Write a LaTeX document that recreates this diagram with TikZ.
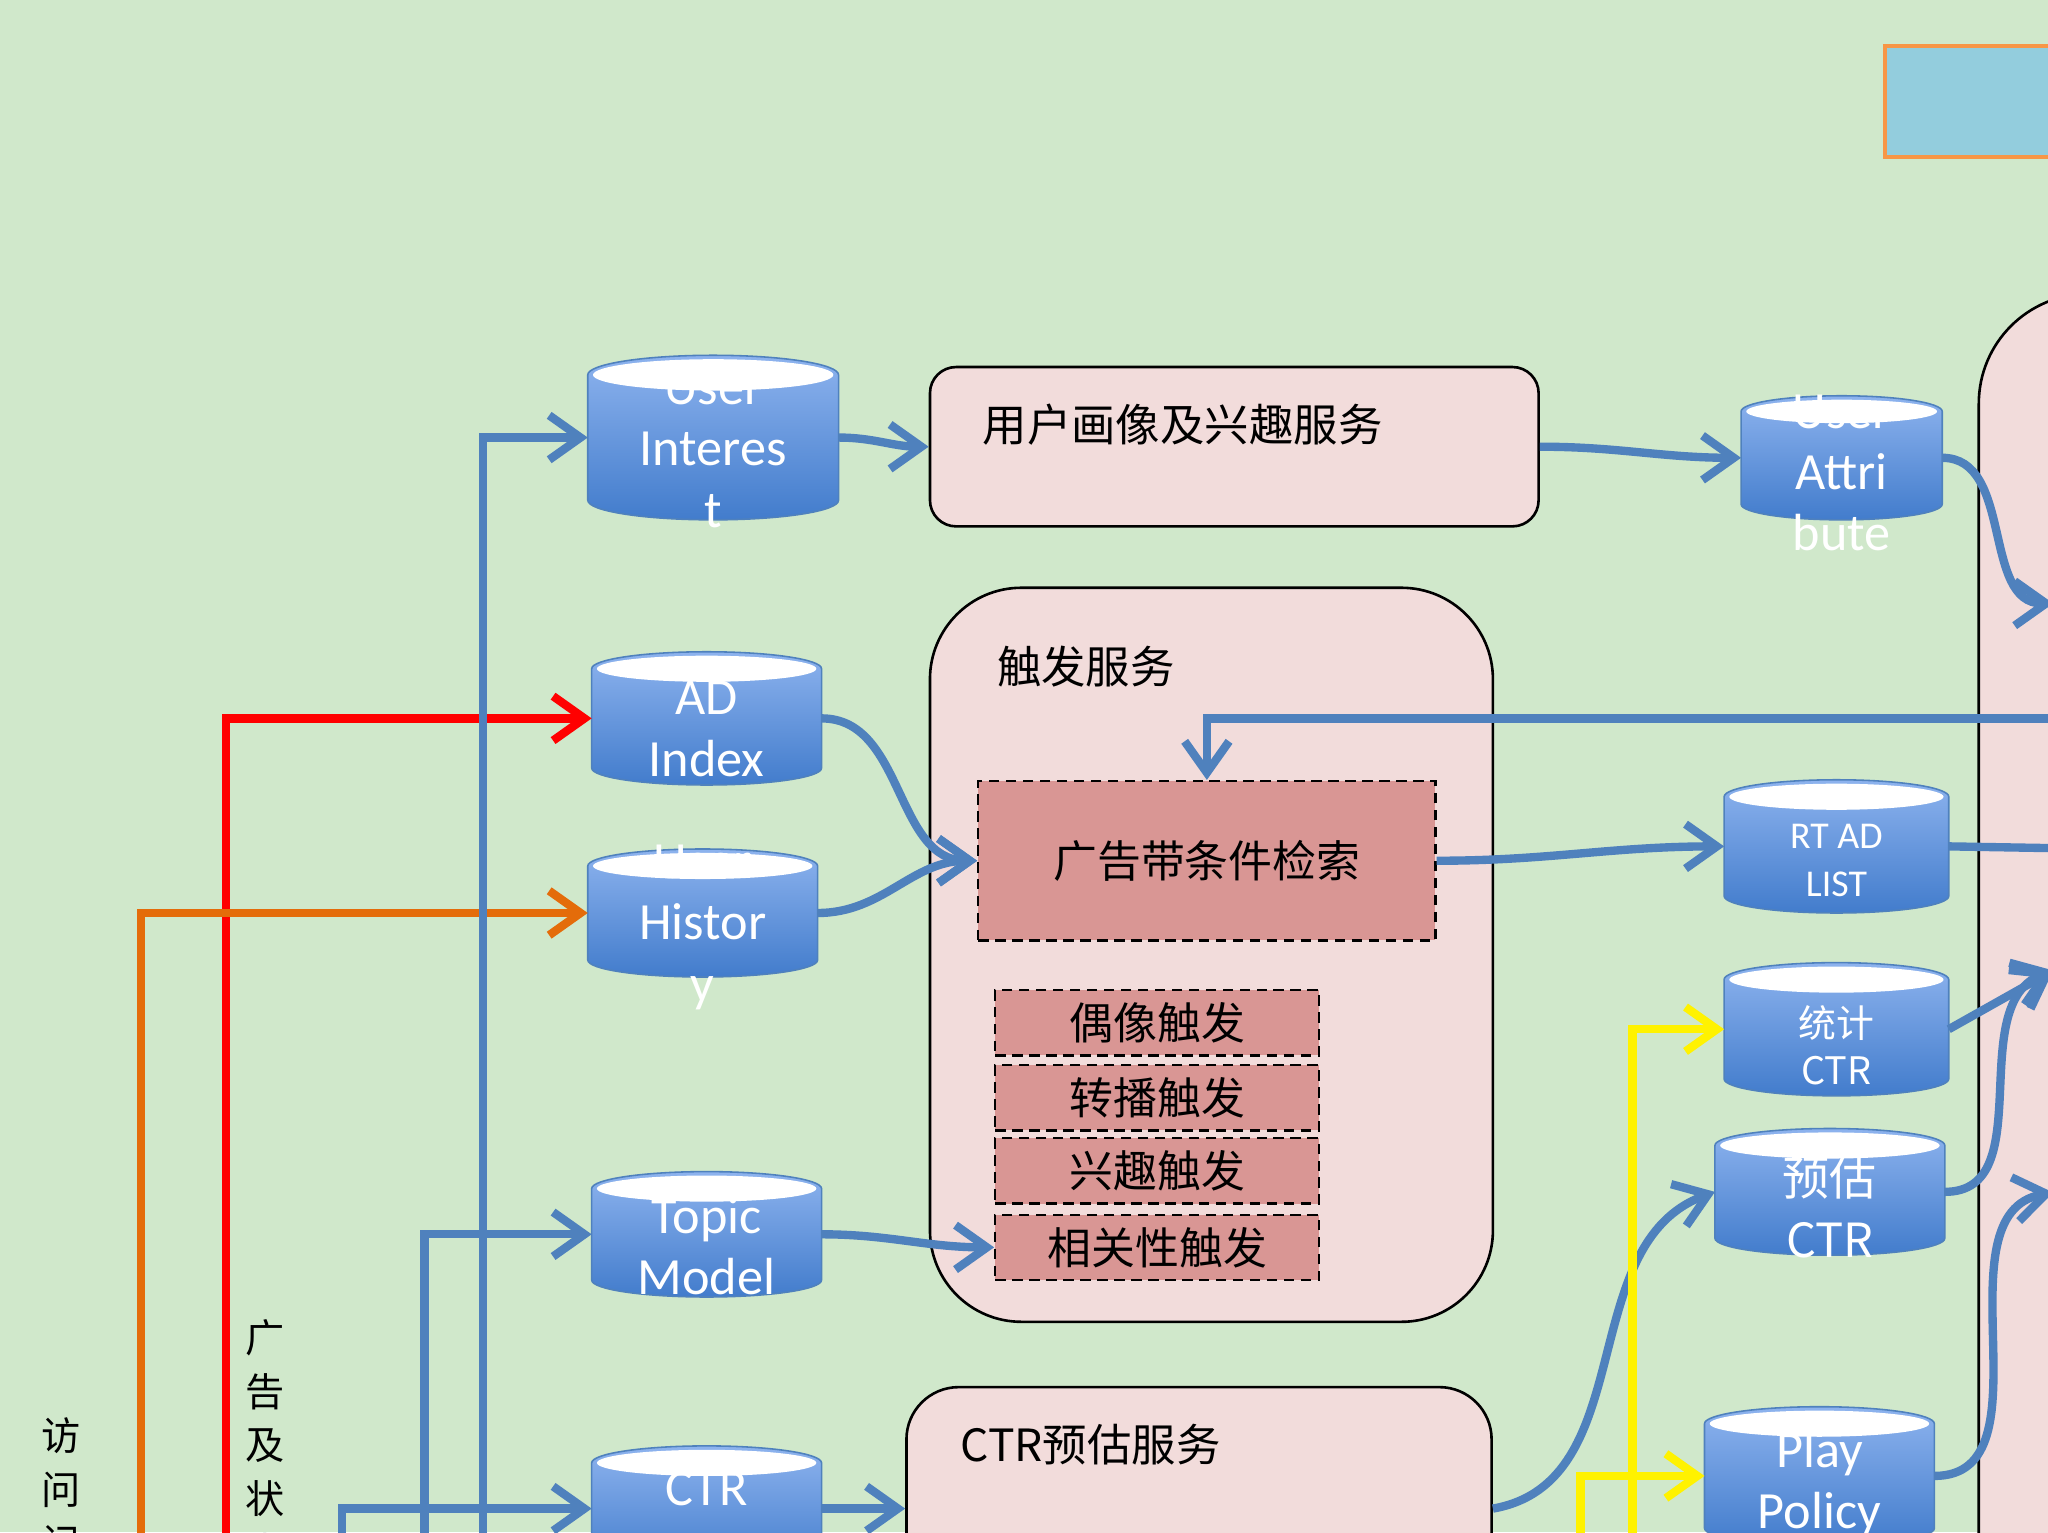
\documentclass[tikz,border=0pt]{standalone}
\usepackage{fontspec}
\setmainfont{Carlito}
\newfontfamily\cjk{Noto Sans CJK SC}
\usetikzlibrary{arrows.meta}
\definecolor{bggreen}{RGB}{208,232,203}
\definecolor{lineblue}{RGB}{79,129,189}
\definecolor{boxpink}{RGB}{242,220,219}
\definecolor{boxrose}{RGB}{217,150,148}
\definecolor{cyltop}{RGB}{141,179,238}
\definecolor{cylbot}{RGB}{66,124,204}
\definecolor{lineorange}{RGB}{228,108,10}
\definecolor{topblue}{RGB}{147,205,221}
\definecolor{toporange}{RGB}{247,150,70}
\tikzset{
  flow/.style={draw=lineblue, line width=3.2pt, -{Straight Barb[length=12pt,width=17pt]}},
  redflow/.style={flow, draw=red},
  orangeflow/.style={flow, draw=lineorange},
  yellowflow/.style={flow, draw=yellow},
  svcbox/.style={draw=black, line width=1pt, fill=boxpink},
  trigbox/.style={draw=black, dash pattern=on 4pt off 2.5pt, line width=0.9pt, fill=boxrose,
    font=\cjk\fontsize{16.8}{20}\selectfont, inner sep=0pt},
  svctitle/.style={anchor=west, inner sep=0pt, font=\cjk\fontsize{17}{20}\selectfont},
  cylbody/.style={inner sep=0pt, outer sep=0pt},
  cyltext/.style={text=white, align=center, inner sep=0pt, font=\fontsize{20}{23.5}\selectfont},
  vtext/.style={anchor=north, align=center, inner sep=0pt, font=\cjk\fontsize{15}{20.5}\selectfont},
}
% name, cx, top, bottom, half width, ry
\newcommand{\dbcyl}[6]{%
  \shade[top color=cyltop, bottom color=cylbot, draw=lineblue, line width=0.6pt]
    (#2-#5,#3) -- (#2-#5,#4) arc[start angle=180, end angle=0, x radius=#5, y radius=#6]
    -- (#2+#5,#3) arc[start angle=0, end angle=-180, x radius=#5, y radius=#6] -- cycle;
  \fill[white] (#2,#3) ellipse[x radius=#5-4, y radius=#6-3];
  \node[cylbody, minimum width=#5pt, minimum height={(#4-#3)*0.5pt}] (#1) at (#2,{(#3+#4)/2}) {};
}
\begin{document}
\begin{tikzpicture}[x=0.5pt, y=-0.5pt]
\useasboundingbox (0,0) rectangle (1568,1173);
\clip (0,0) rectangle (1568,1173);
\fill[bggreen] (0,0) rectangle (1568,1173);

% services
\node[draw=toporange, fill=topblue, line width=1.5pt, minimum width=128.5pt, minimum height=42.5pt] (topbox) at (1571.5,77.5) {};
\node[svcbox, rounded corners=42pt, minimum width=192.5pt, minimum height=587.5pt] (rightbox) at (1707.5,812.5) {};
\node[svcbox, rounded corners=10pt, minimum width=233pt, minimum height=61pt] (profsvc) at (945,342) {};
\node[svctitle] (profsvc-t) at (752,325) {用户画像及兴趣服务};
\node[svcbox, rounded corners=35pt, minimum width=215.5pt, minimum height=281pt] (trigsvc) at (927.5,731) {};
\node[svctitle] (trigsvc-t) at (763,510) {触发服务};
\node[svcbox, rounded corners=20pt, minimum width=224pt, minimum height=93pt] (ctrsvc) at (918,1155) {};
\node[svctitle] (ctrsvc-t) at (735,1106) {CTR预估服务};

\node[trigbox, minimum width=175pt, minimum height=61pt] (retr) at (924,659) {广告带条件检索};
\node[trigbox, minimum width=124pt, minimum height=25pt] (idol) at (886,783) {偶像触发};
\node[trigbox, minimum width=124pt, minimum height=25pt] (repost) at (886,840.5) {转播触发};
\node[trigbox, minimum width=124pt, minimum height=25pt] (interest) at (886,896.5) {兴趣触发};
\node[trigbox, minimum width=124pt, minimum height=25pt] (relate) at (886,955) {相关性触发};

% data stores
\dbcyl{uint}{546}{287}{383}{96}{15}
\dbcyl{adidx}{541}{512}{588}{88}{13}
\dbcyl{uhist}{538}{663}{735}{88}{13}
\dbcyl{topic}{541}{910}{980}{88}{13}
\dbcyl{ctrdb}{541}{1120}{1190}{88}{13}
\dbcyl{attr}{1410}{315}{386}{77}{12}
\dbcyl{rtlist}{1406}{610}{686}{86}{13}
\dbcyl{statctr}{1406}{750}{826}{86}{13}
\dbcyl{predctr}{1401}{877}{948}{88}{13}
\dbcyl{play}{1393}{1090}{1170}{88}{13}
\node[cyltext] (uint-t) at (546,344) {User\\Interes\\t};
\node[cyltext] (adidx-t) at (541,558) {AD\\Index};
\node[cyltext] (uhist-t) at (538,710) {User\\Histor\\y};
\node[cyltext] (topic-t) at (541,954) {Topic\\Model};
\node[cyltext] (ctrdb-t) at (541,1140) {CTR};
\node[cyltext] (attr-t) at (1410,362) {User\\Attri\\bute};
\node[cyltext, font=\fontsize{14.5}{18.5}\selectfont] (rtlist-t) at (1406,659) {RT AD\\LIST};
\node[cyltext, font=\cjk\fontsize{14.5}{18}\selectfont] (statctr-t) at (1406,800) {统计\\CTR};
\node[cyltext, font=\cjk\fontsize{18}{23.5}\selectfont] (predctr-t) at (1401,924) {预估\\CTR};
\node[cyltext] (play-t) at (1393,1136) {Play\\Policy};

\node[vtext] (visit) at (47,1085) {访\\问\\记\\录};
\node[vtext] (adstate) at (203,1010) {广\\告\\及\\状\\态};

% connectors
\coordinate (uint-in) at (370,1200);
\coordinate (topic-in) at (325,1200);
\coordinate (ctrdb-in) at (262,1200);
\coordinate (adidx-in) at (173,1200);
\coordinate (uhist-in) at (108,1200);
\coordinate (stat-in) at (1250,1200);
\coordinate (play-in) at (1210,1200);
\coordinate (retr-in) at (1600,550);
\coordinate (attr-out) at (1572,462);
\coordinate (rtlist-out) at (1610,650);
\coordinate (ctr-out) at (1572,743);
\coordinate (play-out) at (1572,913);
\draw[redflow] (adidx-in) |- (adidx.west);
\draw[orangeflow] (uhist-in) |- (uhist.west);
\draw[flow] (uint-in) |- (uint.west);
\draw[flow] (topic-in) |- (topic.west);
\draw[flow] (ctrdb-in) |- (ctrdb.west);
\draw[flow] (uint.east) to[out=0,in=180] (profsvc.west);
\draw[flow] (profsvc.east) to[out=0,in=180] (attr.west);
\draw[flow] (attr.east) to[out=0,in=180] (attr-out);
\draw[flow] (adidx.east) to[out=0,in=180] (retr.west);
\draw[flow] (uhist.east) to[out=0,in=180] (retr.west);
\draw[flow] (retr-in) -| (retr.north);
\draw[flow] (retr.east) to[out=0,in=180] (rtlist.west);
\draw[flow] (rtlist.east) -- (rtlist-out);
\draw[flow] (statctr.east) -- (ctr-out);
\draw[flow] (predctr.east) to[out=0,in=200] (ctr-out);
\draw[flow] (play.east) to[out=0,in=190] (play-out);
\draw[flow] (topic.east) to[out=0,in=180] (relate.west);
\draw[flow] (ctrdb.east) -- (ctrsvc.west);
\draw[flow] (ctrsvc.east) to[out=10,in=200] (predctr.west);
\draw[yellowflow] (stat-in) |- (statctr.west);
\draw[yellowflow] (play-in) |- (play.west);
\end{tikzpicture}
\end{document}
